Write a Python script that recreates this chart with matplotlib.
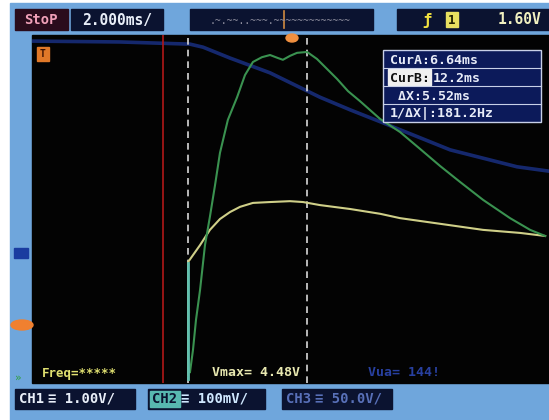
import matplotlib
matplotlib.use('Agg')
import matplotlib.pyplot as plt
from matplotlib.patches import Rectangle, Ellipse

# ---- trace data: time in ms, level in screen divisions ----
yellow_t = [6.64, 6.64, 7.20, 7.66, 8.13, 8.60, 9.07, 9.67, 10.47, 11.40, 12.01,
            12.80, 14.21, 15.61, 16.54, 18.41, 20.42, 22.15, 23.32]
yellow_v = [-3.82, -1.22, -0.83, -0.48, -0.23, -0.07, 0.05, 0.14, 0.16, 0.18, 0.16,
            0.09, 0.0, -0.11, -0.21, -0.34, -0.48, -0.55, -0.62]

green_t = [6.73, 6.87, 7.01, 7.20, 7.43, 7.66, 7.90, 8.13, 8.50, 8.93, 9.30, 9.67,
           10.09, 10.47, 10.84, 11.07, 11.40, 11.73, 12.20, 12.66, 13.13, 13.60,
           14.11, 14.67, 15.61, 16.54, 17.48, 18.41, 19.35, 20.42, 21.68, 22.62, 23.32]
green_v = [-3.75, -3.24, -2.55, -1.86, -0.83, -0.18, 0.55, 1.29, 2.05, 2.57, 3.08, 3.38,
           3.49, 3.54, 3.47, 3.43, 3.52, 3.59, 3.61, 3.45, 3.22, 2.99,
           2.71, 2.48, 2.07, 1.77, 1.38, 0.99, 0.62, 0.21, -0.21, -0.48, -0.62]

blue_t = [-0.65, 3.46, 6.73, 7.34, 8.60, 10.47, 12.80, 14.21, 15.75, 18.88, 22.01, 23.50]
blue_v = [3.86, 3.84, 3.79, 3.72, 3.47, 3.13, 2.57, 2.28, 1.98, 1.36, 0.97, 0.87]

red_marker_t = 5.47
cur_a = 6.64
cur_b = 12.2

cursor_rows = ['CurA:6.64ms', 'CurB:12.2ms', ' ΔX:5.52ms', '1/ΔX|:181.2Hz']
bottom_names = ['CH1', 'CH2', 'CH3']
bottom_scales = ['≡ 1.00V/', '≡ 100mV/', '≡ 50.0V/']

W, H = 549, 420
fig = plt.figure(figsize=(W / 100, H / 100), dpi=100)
fig.patch.set_facecolor('white')

# bezel / frame in pixel coordinates
bg = fig.add_axes([0, 0, 1, 1])
bg.set_xlim(0, W)
bg.set_ylim(H, 0)
bg.axis('off')
bezel = '#6fa6dc'
bg.add_patch(Rectangle((10, 3), W - 10, H - 3, color=bezel))
bg.add_patch(Rectangle((32, 35), W - 32, 348, color='#030303'))

mono = 'DejaVu Sans Mono'
box_dark = '#0b1330'

# top bar
bg.add_patch(Rectangle((15, 9), 53, 21, color='#2a0c1c'))
bg.text(41, 20, 'StoP', color='#f0a0b8', fontsize=10, family=mono,
        weight='bold', ha='center', va='center')
bg.add_patch(Rectangle((71, 9), 92, 21, color=box_dark))
bg.text(117, 20, '2.000ms/', color='#e8eef8', fontsize=10.5, family=mono,
        weight='bold', ha='center', va='center')
bg.add_patch(Rectangle((190, 9), 183, 21, color=box_dark))
bg.text(280, 21, '.~.~~..~~~.~~~~~~~~~~~~~', color='#9090a0', fontsize=7,
        family=mono, ha='center', va='center')
bg.plot([284, 284], [11, 28], color='#d08a40', lw=1.2)
bg.add_patch(Rectangle((397, 9), W - 397, 21, color=box_dark))
bg.text(427, 20, 'ƒ', color='#f0e040', fontsize=11, family=mono,
        weight='bold', ha='center', va='center')
bg.add_patch(Rectangle((446, 12), 12, 15, color='#e8e060'))
bg.text(452, 20, '1', color='#202000', fontsize=9, family=mono,
        weight='bold', ha='center', va='center')
bg.text(541, 20, '1.60V', color='#f0f0c0', fontsize=10.5, family=mono,
        weight='bold', ha='right', va='center')

# left side markers
bg.add_patch(Rectangle((14, 248), 14, 10, color='#1a3ca0'))
bg.add_patch(Ellipse((22, 325), 22, 10, color='#f08030'))
bg.text(18, 378, '»', color='#30a040', fontsize=8, ha='center', va='center')

# bottom bar
bx = [(15, 120), (148, 117), (282, 110)]
name_c = ['#e8eef8', '#0b1330', '#5870b8']
scale_c = ['#e8eef8', '#d0e8ff', '#5870b8']
for (x0, w), nm, sc, c1, c2 in zip(bx, bottom_names, bottom_scales, name_c, scale_c):
    bg.add_patch(Rectangle((x0, 389), w, 20, color=box_dark))
    if nm == 'CH2':
        bg.add_patch(Rectangle((x0 + 2, 391), 30, 16, color='#58b8b0'))
    bg.text(x0 + 4, 399, nm, color=c1, fontsize=10, family=mono,
            weight='bold', ha='left', va='center')
    bg.text(x0 + 33, 399, sc, color=c2, fontsize=10, family=mono,
            weight='bold', ha='left', va='center')

# scope screen
ax = fig.add_axes([32 / W, (H - 383) / H, (W - 32) / W, 348 / H])
ax.set_facecolor('#030303')
ax.set_xlim(-0.65, 23.5)
ax.set_ylim(-4, 4)
ax.axis('off')

ax.plot(blue_t, blue_v, color='#1a3288', lw=2.6, alpha=0.8, solid_capstyle='round')
ax.axvline(red_marker_t, color='#b01818', lw=1.2)
ax.axvline(cur_a, color='#d8d8d8', lw=1.2, ls=(0, (4, 3)))
ax.axvline(cur_b, color='#d8d8d8', lw=1.2, ls=(0, (4, 3)))
ax.plot(yellow_t, yellow_v, color='#cfcf88', lw=1.5)
ax.plot(green_t, green_v, color='#3a9250', lw=1.5)
ax.plot([cur_a, cur_a], [-3.9, -1.25], color='#60c0b0', lw=2)

# screen annotations (pixel coords)
bg.set_zorder(0)
ax.set_zorder(1)
ov = fig.add_axes([0, 0, 1, 1])
ov.set_xlim(0, W)
ov.set_ylim(H, 0)
ov.axis('off')
ov.set_zorder(2)

ov.add_patch(Rectangle((37, 47), 12, 14, color='#e07828'))
ov.text(43, 54, 'T', color='#3a1000', fontsize=7, family=mono,
        weight='bold', ha='center', va='center')
ov.add_patch(Ellipse((292, 38), 12, 8, color='#f09040'))

# cursor readout box
rows_y = [59, 77, 95, 113]
ov.add_patch(Rectangle((383, 50), 158, 72, facecolor='#0c1a5a',
                       edgecolor='#c8d0e8', lw=1))
for yy in rows_y[1:]:
    ov.plot([383, 541], [yy - 9, yy - 9], color='#c8d0e8', lw=0.8)
ov.add_patch(Rectangle((388, 69), 43, 16, color='#f0f0f0'))
for yy, txt in zip(rows_y, cursor_rows):
    if txt.startswith('CurB'):
        ov.text(390, yy + 1, 'CurB:', color='#101010', fontsize=9.5, family=mono,
                weight='bold', va='center')
        ov.text(433, yy + 1, txt[5:], color='#e8ecf8', fontsize=9.5, family=mono,
                weight='bold', va='center')
    else:
        ov.text(390, yy + 1, txt, color='#e8ecf8', fontsize=9.5, family=mono,
                weight='bold', va='center')

ov.text(42, 373, 'Freq=*****', color='#e0e070', fontsize=9, family=mono,
        weight='bold', va='center')
ov.text(212, 373, 'Vmax= 4.48V', color='#e8e8b0', fontsize=9.5, family=mono,
        weight='bold', va='center')
ov.text(368, 373, 'Vua= 144!', color='#2840a0', fontsize=9.5, family=mono,
        weight='bold', va='center')

fig.savefig('out.png', dpi=100)
